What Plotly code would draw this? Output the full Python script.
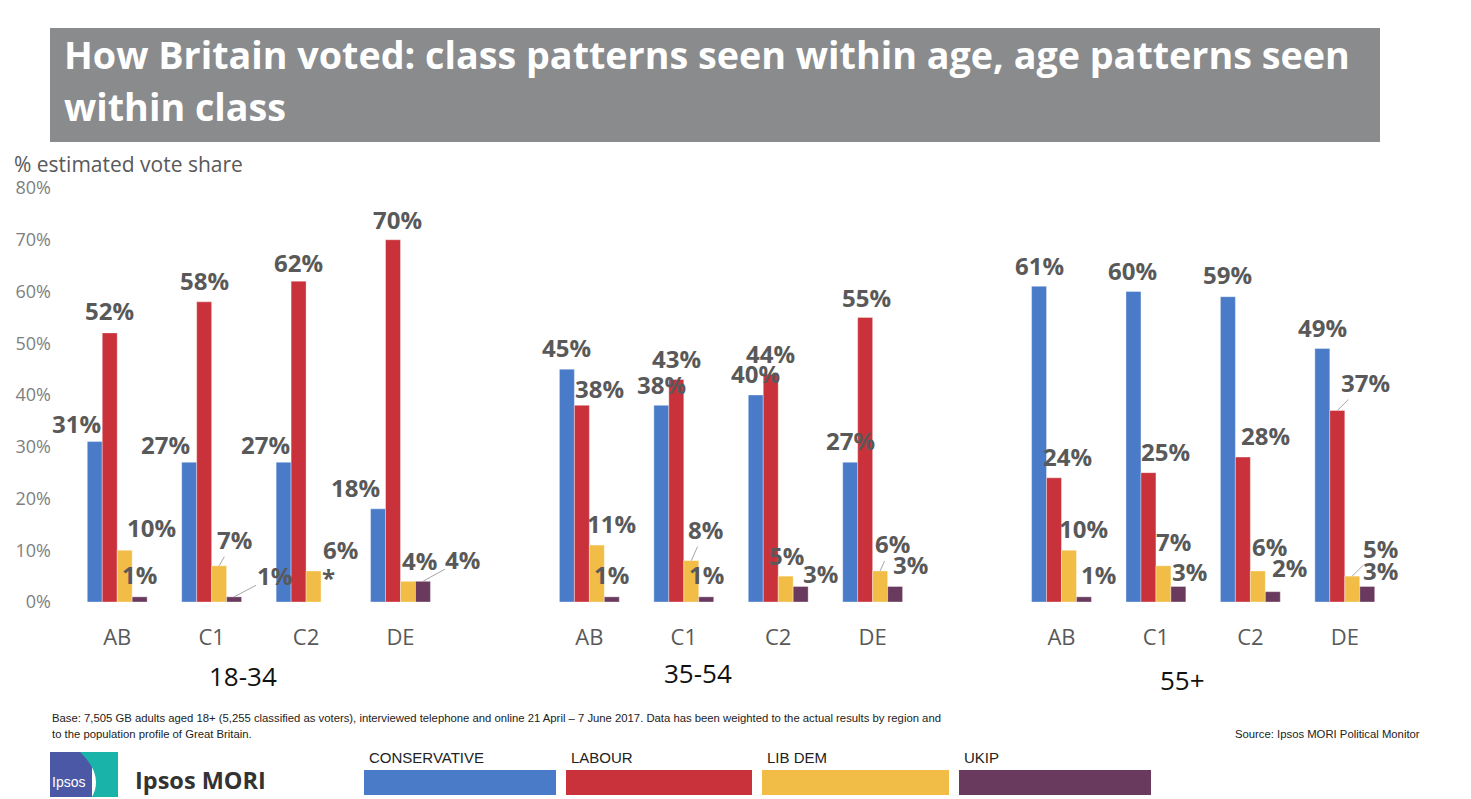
import plotly.graph_objects as go

# ---------------- data ----------------
classes = ["AB", "C1", "C2", "DE"]
age_groups = ["18-34", "35-54", "55+"]
series_names = ["CONSERVATIVE", "LABOUR", "LIB DEM", "UKIP"]
conservative = [31, 27, 27, 18, 45, 38, 40, 27, 61, 60, 59, 49]
labour = [52, 58, 62, 70, 38, 43, 44, 55, 24, 25, 28, 37]
lib_dem = [10, 7, 6, 4, 11, 8, 5, 6, 10, 7, 6, 5]
ukip = [1, 1, 0, 4, 1, 1, 3, 3, 1, 3, 2, 3]
y_ticks = [0, 10, 20, 30, 40, 50, 60, 70, 80]
y_ticklabels = ["0%", "10%", "20%", "30%", "40%", "50%", "60%", "70%", "80%"]

title_lines = ["How Britain voted: class patterns seen within age, age patterns seen",
               "within class"]
footnote1 = ("Base: 7,505 GB adults aged 18+ (5,255 classified as voters), interviewed telephone and online "
             "21 April \u2013 7 June 2017. Data has been weighted to the actual results by region and")
footnote2 = "to the population profile of Great Britain."
source = "Source: Ipsos MORI Political Monitor"

# ---------------- style / layout ----------------
colors = ["#4A7BC9", "#C9313B", "#F1BD47", "#6A3A5E"]
series = [conservative, labour, lib_dem, ukip]

W, H = 1471, 799
L, R, T, B = 70, 1392, 188, 602
BARGAP = 0.366

def px(x):
    return (x - L) / (R - L)

def py(y):
    return (B - y) / (B - T)

slots = [g * 5 + c for g in range(len(age_groups)) for c in range(len(classes))]
ticktext = classes * len(age_groups)

# label offsets (pixels: dx right, dy down) and leader-line flags, per series per slot
label_offsets = [
    [(-18, -18), (-24, -18), (-18, -18), (-23, -21), (0, -22), (0, -21), (0, -22), (0, -22),
     (0, -21), (-1, -21), (0, -22), (0, -21)],
    [(0, -22), (0, -21), (0, -19), (4, -20), (18, -17), (0, -21), (0, -21), (1, -20),
     (13, -21), (17, -21), (23, -22), (28, -28)],
    [(27, -23), (15, -26), (27, -21), (12, -21), (15, -22), (14, -31), (1, -21), (12, -27),
     (15, -22), (10, -24), (12, -24), (28, -28)],
    [(0, -22), (40, -21), (0, -25), (40, -22), (0, -22), (0, -22), (20, -13), (15, -22),
     (15, -22), (11, -15), (17, -24), (13, -16)],
]
leaders = {(2, 1), (3, 1), (3, 3), (2, 5), (2, 7), (1, 11), (2, 11)}

fig = go.Figure()
for name, vals, col in zip(series_names, series, colors):
    fig.add_trace(go.Bar(
        x=slots, y=vals, name=name,
        marker=dict(color=col, line=dict(width=0.6, color="rgba(255,255,255,0.6)")),
        showlegend=False, hoverinfo="skip"))

bw = (1 - BARGAP) / 4
annotations = []
for si, vals in enumerate(series):
    for k, v in enumerate(vals):
        xc = slots[k] - (1 - BARGAP) / 2 + (si + 0.5) * bw
        dx, dy = label_offsets[si][k]
        txt = f"{v}%" if v > 0 else "*"
        annotations.append(dict(
            x=xc, y=v, xref="x", yref="y", text=f"<b>{txt}</b>",
            showarrow=True, ax=dx, ay=dy, arrowhead=0, arrowwidth=1, standoff=0,
            arrowcolor="#A6A6A6" if (si, k) in leaders else "rgba(0,0,0,0)",
            font=dict(family="Open Sans", size=24, color="#595959"),
            borderpad=0))

# group labels
for g, (lab, gx, gy) in enumerate(zip(age_groups, [243, 698, 1182], [676, 673, 680])):
    annotations.append(dict(x=px(gx), y=py(gy), xref="paper", yref="paper", text=lab,
                            showarrow=False, xanchor="center", yanchor="middle",
                            font=dict(family="Open Sans", size=26, color="#111111")))

# axis title
annotations.append(dict(x=px(12), y=py(164), xref="paper", yref="paper",
                        text="% estimated vote share", showarrow=False,
                        xanchor="left", yanchor="middle",
                        font=dict(family="Open Sans", size=21, color="#595959")))

# title
for line, ty in zip(title_lines, [55, 106]):
    annotations.append(dict(x=px(62), y=py(ty), xref="paper", yref="paper",
                            text=f"<b>{line}</b>", showarrow=False, xanchor="left", yanchor="middle",
                            font=dict(family="Open Sans", size=37.7, color="white")))

# footnotes
fn_font = dict(family="Liberation Sans Narrow, Liberation Sans, Arial", size=11.3, color="#222222")
annotations.append(dict(x=px(50), y=py(718), xref="paper", yref="paper", text=footnote1,
                        showarrow=False, xanchor="left", yanchor="middle", font=fn_font))
annotations.append(dict(x=px(50), y=py(734), xref="paper", yref="paper", text=footnote2,
                        showarrow=False, xanchor="left", yanchor="middle", font=fn_font))
annotations.append(dict(x=px(1422), y=py(734), xref="paper", yref="paper", text=source,
                        showarrow=False, xanchor="right", yanchor="middle", font=fn_font))

# legend
shapes = []
leg_x = [(364, 556), (566, 752), (762, 949), (959, 1151)]
for (x0, x1), name, col in zip(leg_x, series_names, colors):
    shapes.append(dict(type="rect", xref="paper", yref="paper", x0=px(x0), x1=px(x1),
                       y0=py(795), y1=py(770), fillcolor=col, line=dict(width=0)))
    annotations.append(dict(x=px(x0 + 3), y=py(757), xref="paper", yref="paper", text=name,
                            showarrow=False, xanchor="left", yanchor="middle",
                            font=dict(family="Liberation Sans Narrow, Liberation Sans, Arial",
                                      size=15, color="#222222")))

# title box
shapes.insert(0, dict(type="rect", xref="paper", yref="paper", x0=px(50), x1=px(1380),
                      y0=py(142), y1=py(28), fillcolor="#898B8D", line=dict(width=0), layer="below"))

# Ipsos logo
shapes.append(dict(type="rect", xref="paper", yref="paper", x0=px(50), x1=px(92),
                   y0=py(797), y1=py(752), fillcolor="#4B58A6", line=dict(width=0)))
shapes.append(dict(type="path", xref="paper", yref="paper",
                   path=(f"M {px(80)},{py(752)} L {px(118)},{py(752)} L {px(118)},{py(797)} "
                         f"L {px(92)},{py(797)} Q {px(104)},{py(775)} {px(80)},{py(752)} Z"),
                   fillcolor="#19B3A9", line=dict(width=0)))
annotations.append(dict(x=px(68), y=py(782), xref="paper", yref="paper", text="Ipsos",
                        showarrow=False, xanchor="center", yanchor="middle",
                        font=dict(family="Liberation Sans Narrow, Arial", size=14, color="white")))
annotations.append(dict(x=px(133), y=py(780), xref="paper", yref="paper", text="<b>Ipsos MORI</b>",
                        showarrow=False, xanchor="left", yanchor="middle",
                        font=dict(family="Open Sans", size=23.5, color="#333333")))

fig.update_layout(
    width=W, height=H,
    margin=dict(l=L, r=W - R, t=T, b=H - B, pad=0),
    paper_bgcolor="white", plot_bgcolor="white",
    barmode="group", bargap=BARGAP, bargroupgap=0,
    xaxis=dict(range=[-0.5, 13.5], tickmode="array", tickvals=slots, ticktext=ticktext,
               showgrid=False, zeroline=False, showline=False, ticks="",
               tickfont=dict(family="Open Sans", size=22, color="#595959"),
               ticklabelstandoff=20),
    yaxis=dict(range=[0, 80], tickmode="array", tickvals=y_ticks, ticktext=y_ticklabels,
               showgrid=False, zeroline=False, showline=False, ticks="",
               tickfont=dict(family="Open Sans", size=18, color="#7F7F7F"),
               ticklabelstandoff=18),
    annotations=annotations, shapes=shapes,
)

fig.write_html("out.html", config={"displayModeBar": False},
               post_script="document.body.style.margin='0';document.body.style.overflow='hidden';")
